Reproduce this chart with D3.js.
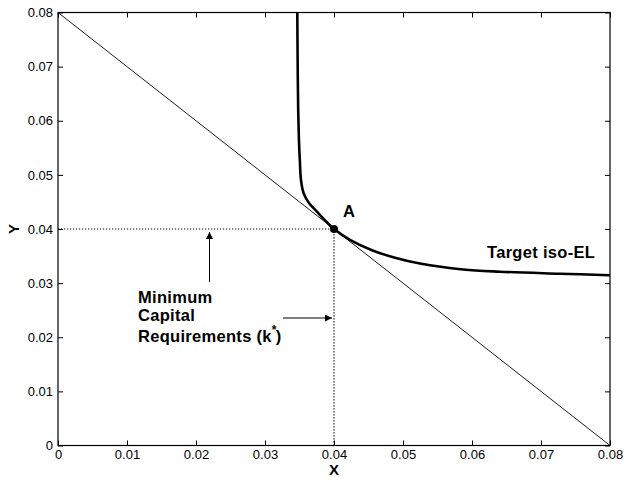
<!DOCTYPE html>
<html>
<head>
<meta charset="utf-8">
<script src="https://cdn.jsdelivr.net/npm/d3@7"></script>
<style>
  html, body { margin: 0; padding: 0; background: #fff; }
  svg { display: block; }
  text { font-family: "Liberation Sans", Arial, Helvetica, sans-serif; fill: #000; }
</style>
</head>
<body>
<svg id="chart" width="625" height="477"></svg>
<script>
// Axis ticks
const xTicks = [0, 0.01, 0.02, 0.03, 0.04, 0.05, 0.06, 0.07, 0.08];
const xTickLabels = ["0", "0.01", "0.02", "0.03", "0.04", "0.05", "0.06", "0.07", "0.08"];
const yTicks = [0, 0.01, 0.02, 0.03, 0.04, 0.05, 0.06, 0.07, 0.08];
const yTickLabels = ["0", "0.01", "0.02", "0.03", "0.04", "0.05", "0.06", "0.07", "0.08"];

// Target iso-EL curve
const isoX = [0.03468, 0.03473, 0.03481, 0.03492, 0.03505, 0.03522, 0.03560, 0.03640, 0.03749, 0.03870,
              0.04000, 0.04232, 0.04551, 0.04884, 0.05246, 0.05870, 0.06406, 0.07275, 0.08000];
const isoY = [0.08000, 0.07114, 0.06191, 0.05638, 0.05269, 0.04900, 0.04660, 0.04475, 0.04327, 0.04161,
              0.04000, 0.03801, 0.03608, 0.03469, 0.03362, 0.03252, 0.03211, 0.03174, 0.03146];

// Straight line x + y = 0.08
const lineX = [0, 0.08];
const lineY = [0.08, 0];

// Point A (minimum capital requirements)
const pointX = [0.04];
const pointY = [0.04];

const svg = d3.select("#chart");
const plotLeft = 58, plotRight = 610, plotTop = 12.5, plotBottom = 445.5;

const x = d3.scaleLinear().domain([0, 0.08]).range([plotLeft, plotRight]);
const y = d3.scaleLinear().domain([0, 0.08]).range([plotBottom, plotTop]);

const defs = svg.append("defs");
defs.append("clipPath").attr("id", "plot-clip")
  .append("rect").attr("x", plotLeft).attr("y", plotTop)
  .attr("width", plotRight - plotLeft).attr("height", plotBottom - plotTop);
defs.append("marker")
  .attr("id", "arrowhead")
  .attr("viewBox", "0 0 10 10")
  .attr("refX", 10).attr("refY", 5)
  .attr("markerUnits", "userSpaceOnUse")
  .attr("markerWidth", 9).attr("markerHeight", 7)
  .attr("orient", "auto")
  .append("path").attr("d", "M0,0 L10,5 L0,10 Z").attr("fill", "#000");

// Axes with inward ticks on all four sides
const fontTick = "13px";
const gx = svg.append("g").attr("transform", `translate(0,${plotBottom})`)
  .call(d3.axisBottom(x).tickValues(xTicks).tickFormat((d, i) => xTickLabels[i])
    .tickSizeInner(-5).tickSizeOuter(0).tickPadding(4.5));
const gy = svg.append("g").attr("transform", `translate(${plotLeft},0)`)
  .call(d3.axisLeft(y).tickValues(yTicks).tickFormat((d, i) => yTickLabels[i])
    .tickSizeInner(-5).tickSizeOuter(0).tickPadding(5));
const gt = svg.append("g").attr("transform", `translate(0,${plotTop})`)
  .call(d3.axisTop(x).tickValues(xTicks).tickFormat("").tickSizeInner(-5).tickSizeOuter(0));
const gr = svg.append("g").attr("transform", `translate(${plotRight},0)`)
  .call(d3.axisRight(y).tickValues(yTicks).tickFormat("").tickSizeInner(-5).tickSizeOuter(0));

[gx, gy, gt, gr].forEach(g => {
  g.select(".domain").remove();
  g.selectAll(".tick line").attr("stroke", "#000").attr("stroke-width", 1);
  g.selectAll(".tick text").style("font-size", fontTick).attr("fill", "#000");
});

svg.append("rect")
  .attr("x", plotLeft).attr("y", plotTop)
  .attr("width", plotRight - plotLeft).attr("height", plotBottom - plotTop)
  .attr("fill", "none").attr("stroke", "#000").attr("stroke-width", 1.2);

const plot = svg.append("g").attr("clip-path", "url(#plot-clip)");

// Straight line
plot.append("path")
  .datum(lineX.map((v, i) => [v, lineY[i]]))
  .attr("d", d3.line().x(d => x(d[0])).y(d => y(d[1])))
  .attr("fill", "none").attr("stroke", "#000").attr("stroke-width", 0.9);

// Dotted guides to point A
plot.append("path")
  .attr("d", d3.line()([[x(0), y(pointY[0])], [x(pointX[0]), y(pointY[0])]]))
  .attr("stroke", "#000").attr("stroke-width", 1.2).attr("stroke-dasharray", "1.2,1.8");
plot.append("path")
  .attr("d", d3.line()([[x(pointX[0]), y(0)], [x(pointX[0]), y(pointY[0])]]))
  .attr("stroke", "#000").attr("stroke-width", 1.2).attr("stroke-dasharray", "1.2,1.8");

// Target iso-EL curve
plot.append("path")
  .datum(isoX.map((v, i) => [v, isoY[i]]))
  .attr("d", d3.line().x(d => x(d[0])).y(d => y(d[1])).curve(d3.curveCatmullRom.alpha(0.5)))
  .attr("fill", "none").attr("stroke", "#000").attr("stroke-width", 2.6);

// Point A
svg.append("circle")
  .attr("cx", x(pointX[0])).attr("cy", y(pointY[0])).attr("r", 4)
  .attr("fill", "#000");

// Annotations
function label(txt, px, py) {
  return svg.append("text").attr("x", px).attr("y", py)
    .style("font-weight", "bold").style("font-size", "16.5px")
    .style("letter-spacing", "0.3px").text(txt);
}
label("A", x(pointX[0]) + 9, y(pointY[0]) - 12);
label("Target iso-EL", 487, 258);
label("Minimum", 138, 303);
label("Capital", 138, 321);
const req = label("", 138, 342);
req.append("tspan").text("Requirements (k");
req.append("tspan").attr("dy", -8).style("font-size", "12px").text("*");
req.append("tspan").attr("dy", 8).attr("dx", -1).text(")");

// Arrows
svg.append("line")
  .attr("x1", 209.5).attr("y1", 282).attr("x2", 209.5).attr("y2", y(pointY[0]) + 3)
  .attr("stroke", "#000").attr("stroke-width", 1).attr("marker-end", "url(#arrowhead)");
svg.append("line")
  .attr("x1", 283).attr("y1", 318).attr("x2", x(pointX[0]) - 2).attr("y2", 318)
  .attr("stroke", "#000").attr("stroke-width", 1).attr("marker-end", "url(#arrowhead)");

// Axis titles
svg.append("text").attr("x", x(0.04)).attr("y", 474.5).attr("text-anchor", "middle")
  .style("font-weight", "bold").style("font-size", "15px").text("X");
svg.append("text").attr("transform", `translate(19,${y(0.04)}) rotate(-90)`).attr("text-anchor", "middle")
  .style("font-weight", "bold").style("font-size", "15px").text("Y");
</script>
</body>
</html>
